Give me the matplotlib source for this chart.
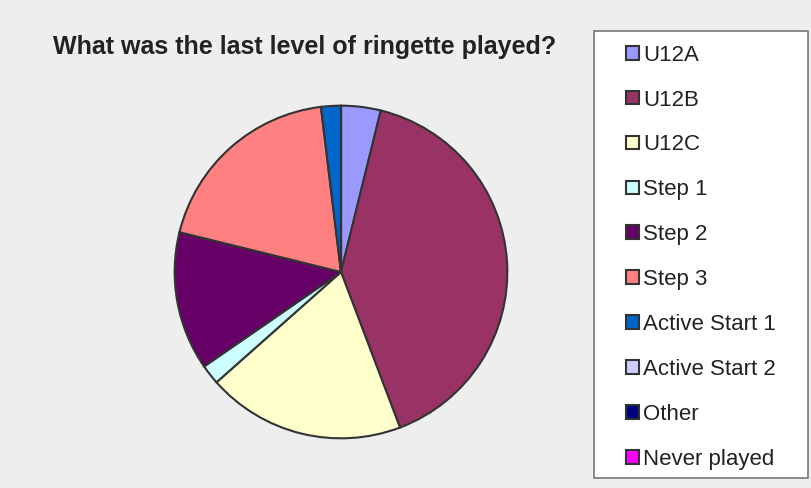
import matplotlib.pyplot as plt
from matplotlib.patches import Patch, Rectangle

levels = ["U12A", "U12B", "U12C", "Step 1", "Step 2", "Step 3",
          "Active Start 1", "Active Start 2", "Other", "Never played"]
counts = [2, 21, 10, 1, 7, 10, 1, 0, 0, 0]
colors = ["#9999FF", "#993366", "#FFFFCC", "#CCFFFF", "#660066", "#FF8080",
          "#0066CC", "#CCCCFF", "#000080", "#FF00FF"]

plt.rcParams['font.family'] = ['Liberation Sans', 'DejaVu Sans']

fig = plt.figure(figsize=(8.11, 4.88), dpi=100, facecolor="#EEEEEE")

# pie axes, centred at about (341, 272) px with radius 168 px
ax = fig.add_axes([173 / 811, 1 - 440 / 488, 336 / 811, 336 / 488])
ax.pie(counts, colors=colors, startangle=90, counterclock=False,
       wedgeprops=dict(edgecolor="#333333", linewidth=1.5))
ax.set_aspect("equal")
ax.set_xlim(-1.01, 1.01)
ax.set_ylim(-1.01, 1.01)

fig.text(53 / 811, 1 - 47 / 488, "What was the last level of ringette played?",
         fontsize=18, fontweight="bold", color="#222222", va="center", ha="left")

# legend frame
fig.patches.append(Rectangle((594 / 811, 1 - 478 / 488), 214 / 811, 447 / 488,
                             transform=fig.transFigure, facecolor="white",
                             edgecolor="#777777", linewidth=1.2, zorder=0))

handles = [Patch(facecolor=c, edgecolor="#333333", linewidth=1.5) for c in colors]
fig.legend(handles, levels, loc="upper left",
           bbox_to_anchor=(615 / 811, 1 - 33.5 / 488), frameon=False,
           fontsize=16, labelspacing=1.075, handlelength=0.57, handleheight=0.57,
           handletextpad=0.19, borderpad=0, labelcolor="#222222")

fig.savefig("out.png", dpi=100, facecolor=fig.get_facecolor())
